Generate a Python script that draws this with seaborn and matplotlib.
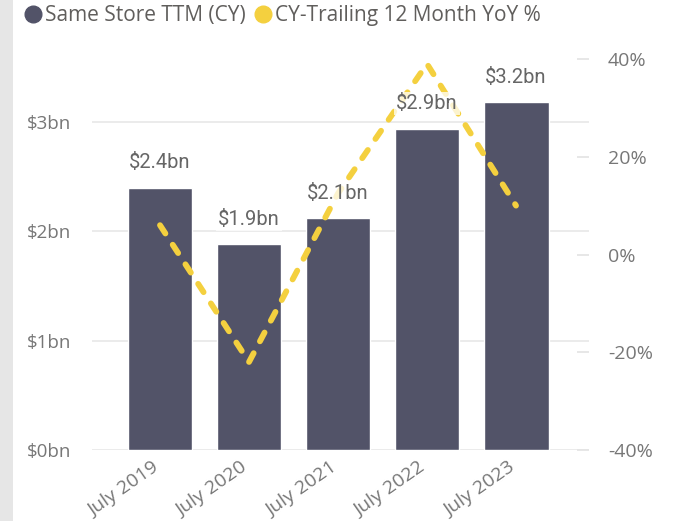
import numpy as np
import pandas as pd
import matplotlib
matplotlib.use('Agg')
import matplotlib.pyplot as plt
from matplotlib.lines import Line2D
from matplotlib.patches import Rectangle
from matplotlib.transforms import ScaledTranslation
import seaborn as sns

# data
periods = ['July 2019', 'July 2020', 'July 2021', 'July 2022', 'July 2023']
sales_bn = [2.40, 1.88, 2.12, 2.94, 3.18]
bar_labels = ['$2.4bn', '$1.9bn', '$2.1bn', '$2.9bn', '$3.2bn']
yoy_pct = [6.0, -22.0, 12.5, 39.0, 10.0]
left_ticks = [0, 1, 2, 3]
left_ticklabels = ['$0bn', '$1bn', '$2bn', '$3bn']
right_ticks = [-40, -20, 0, 20, 40]
right_ticklabels = ['-40%', '-20%', '0%', '20%', '40%']

BAR = '#525368'
YELLOW = '#F4D03F'
TXT = '#777777'
LBL = '#666666'
GRID = '#E8E8E8'

sns.set_style('white')
plt.rcParams['font.family'] = ['Open Sans', 'DejaVu Sans']

df = pd.DataFrame({'period': periods, 'sales': sales_bn, 'yoy': yoy_pct})

W, H = 674, 521
fig = plt.figure(figsize=(W / 100, H / 100), dpi=100)
fig.add_artist(Rectangle((0, 0), 13 / W, 1, transform=fig.transFigure,
                         facecolor='#E6E6E6', edgecolor='none', zorder=0))
ax = fig.add_axes([92 / W, 1 - 450 / H, (589 - 92) / W, (450 - 59) / H])

# bars
sns.barplot(data=df, x='period', y='sales', ax=ax, color=BAR, width=0.73,
            saturation=1, errorbar=None)
ax.set_ylim(0, 3.577)
ax.set_yticks(left_ticks, left_ticklabels)
ax.set_axisbelow(True)
ax.grid(axis='y', color=GRID, lw=1.2)
ax.set_xlabel('')
ax.set_ylabel('')
ax.tick_params(axis='y', length=0, pad=15, labelsize=13.5, labelcolor=TXT)
ax.tick_params(axis='x', length=0, pad=4, labelsize=14, labelcolor=TXT)

# yoy line on secondary axis
ax2 = ax.twinx()
sns.pointplot(data=df, x='period', y='yoy', ax=ax2, color=YELLOW,
              errorbar=None)
for ln in ax2.lines:
    ln.set_marker('')
    ln.set_linewidth(4.2)
    ln.set_linestyle((0, (1.7, 2.3)))
    ln.set_dash_capstyle('round')
    ln.set_zorder(3)
ax2.set_ylim(-40, 40)
ax2.set_yticks(right_ticks, right_ticklabels)
ax2.set_ylabel('')
ax2.tick_params(axis='y', direction='in', length=8.6, width=1.2,
                color='#E3E3E3', pad=13.7, labelsize=14, labelcolor=TXT)

ax.set_xlim(-0.764, 4.82)
shift = ScaledTranslation(-6 / 72, -2 / 72, fig.dpi_scale_trans)
for lab in ax.get_xticklabels():
    lab.set_rotation(35)
    lab.set_ha('right')
    lab.set_rotation_mode('anchor')
    lab.set_transform(lab.get_transform() + shift)

for a in (ax, ax2):
    for s in a.spines.values():
        s.set_visible(False)

# data labels above bars, over the line
for bar, lab in zip(ax.patches, bar_labels):
    ax2.annotate(lab, xy=(bar.get_x() + bar.get_width() / 2, bar.get_height()),
                 xycoords=ax.transData, xytext=(0, 14),
                 textcoords='offset points', ha='center', va='baseline',
                 fontsize=14.5, color=LBL, family=['Roboto', 'DejaVu Sans'],
                 bbox=dict(boxstyle='square,pad=0.1', fc='white', ec='none',
                           alpha=0.75),
                 zorder=5)

handles = [
    Line2D([], [], marker='o', ls='', color=BAR, markersize=12,
           label='Same Store TTM (CY)'),
    Line2D([], [], marker='o', ls='', color=YELLOW, markersize=12,
           label='CY-Trailing 12 Month YoY %'),
]
fig.legend(handles=handles, loc='upper left', bbox_to_anchor=(25 / W, 1 - 5 / H),
           ncol=2, frameon=False, fontsize=15, labelcolor='#605E5C',
           handlelength=0.8, handletextpad=0.15, columnspacing=0.45,
           borderaxespad=0, borderpad=0)

fig.savefig('out.png', dpi=100)
